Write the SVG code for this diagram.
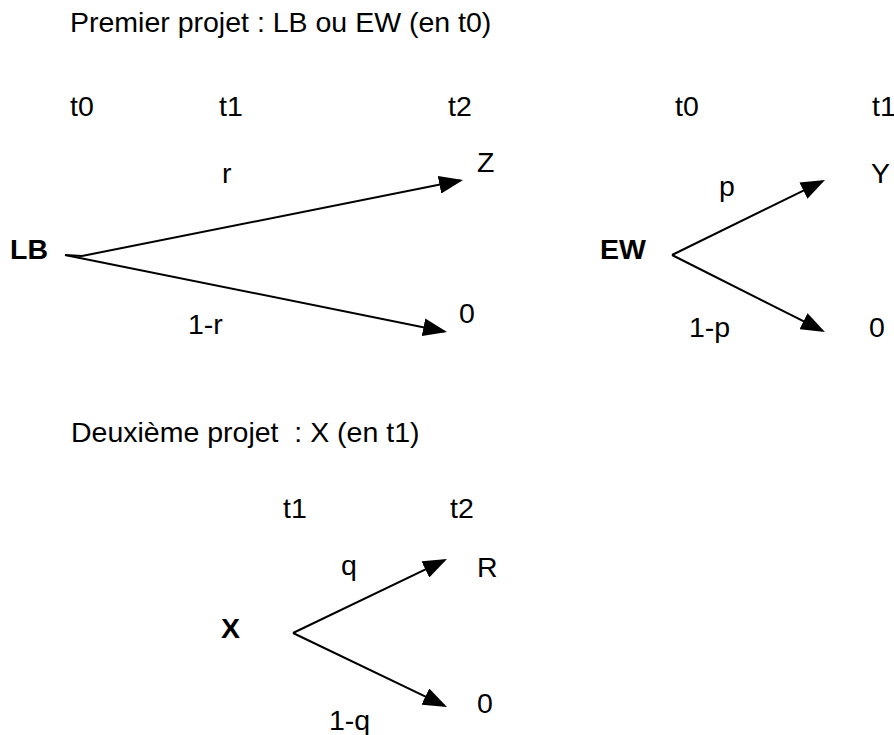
<svg xmlns="http://www.w3.org/2000/svg" width="894" height="735" viewBox="0 0 894 735">
  <style>
    text { font-family: "Liberation Sans", Arial, sans-serif; font-size: 28.5px; fill: #000; }
    .root { font-weight: bold; }
    .edge { stroke: #000; stroke-width: 2; fill: none; marker-end: url(#head); }
    .tail { stroke: #000; stroke-width: 2; fill: none; }
  </style>
  <defs>
    <marker id="head" viewBox="0 0 24 18" refX="21" refY="9" markerWidth="24" markerHeight="18" markerUnits="userSpaceOnUse" orient="auto">
      <path d="M0,0 L24,9 L0,18 Z" fill="#000"/>
    </marker>
  </defs>

  <rect width="894" height="735" fill="#fff"/>

  <!-- section titles -->
  <text x="70" y="32">Premier projet : LB ou EW (en t0)</text>
  <text x="71" y="442" xml:space="preserve">Deuxième projet  : X (en t1)</text>

  <!-- time axis labels -->
  <g id="time-labels">
    <text x="70" y="116">t0</text>
    <text x="219" y="116">t1</text>
    <text x="448" y="116">t2</text>
    <text x="675" y="116">t0</text>
    <text x="872" y="116">t1</text>
    <text x="283" y="518">t1</text>
    <text x="450" y="518">t2</text>
  </g>

  <!-- connectors -->
  <g id="connectors">
    <line class="tail" x1="65" y1="255" x2="82" y2="256"/>
    <line class="edge" x1="82" y1="256" x2="460.1" y2="180.6"/>
    <line class="edge" x1="65" y1="255" x2="444.1" y2="331.4"/>
    <line class="edge" x1="672" y1="255" x2="822.3" y2="181.3"/>
    <line class="edge" x1="672" y1="255" x2="822.3" y2="330.7"/>
    <line class="edge" x1="293" y1="633" x2="444.3" y2="560.3"/>
    <line class="edge" x1="293" y1="633" x2="444.3" y2="705.7"/>
    <text x="222" y="183">r</text>
    <text x="188" y="334">1-r</text>
    <text x="719" y="196">p</text>
    <text x="689" y="337">1-p</text>
    <text x="341" y="575">q</text>
    <text x="329" y="730">1-q</text>
  </g>

  <!-- tree: LB -->
  <g id="node-LB"><text class="root" x="10" y="259">LB</text></g>
  <g id="node-Z"><text x="477" y="172">Z</text></g>
  <g id="node-LB-0"><text x="459" y="323">0</text></g>

  <!-- tree: EW -->
  <g id="node-EW"><text class="root" x="600" y="259">EW</text></g>
  <g id="node-Y"><text x="871" y="183">Y</text></g>
  <g id="node-EW-0"><text x="869" y="337">0</text></g>

  <!-- tree: X -->
  <g id="node-X"><text class="root" x="221" y="638">X</text></g>
  <g id="node-R"><text x="477" y="577">R</text></g>
  <g id="node-X-0"><text x="477" y="713">0</text></g>
</svg>
